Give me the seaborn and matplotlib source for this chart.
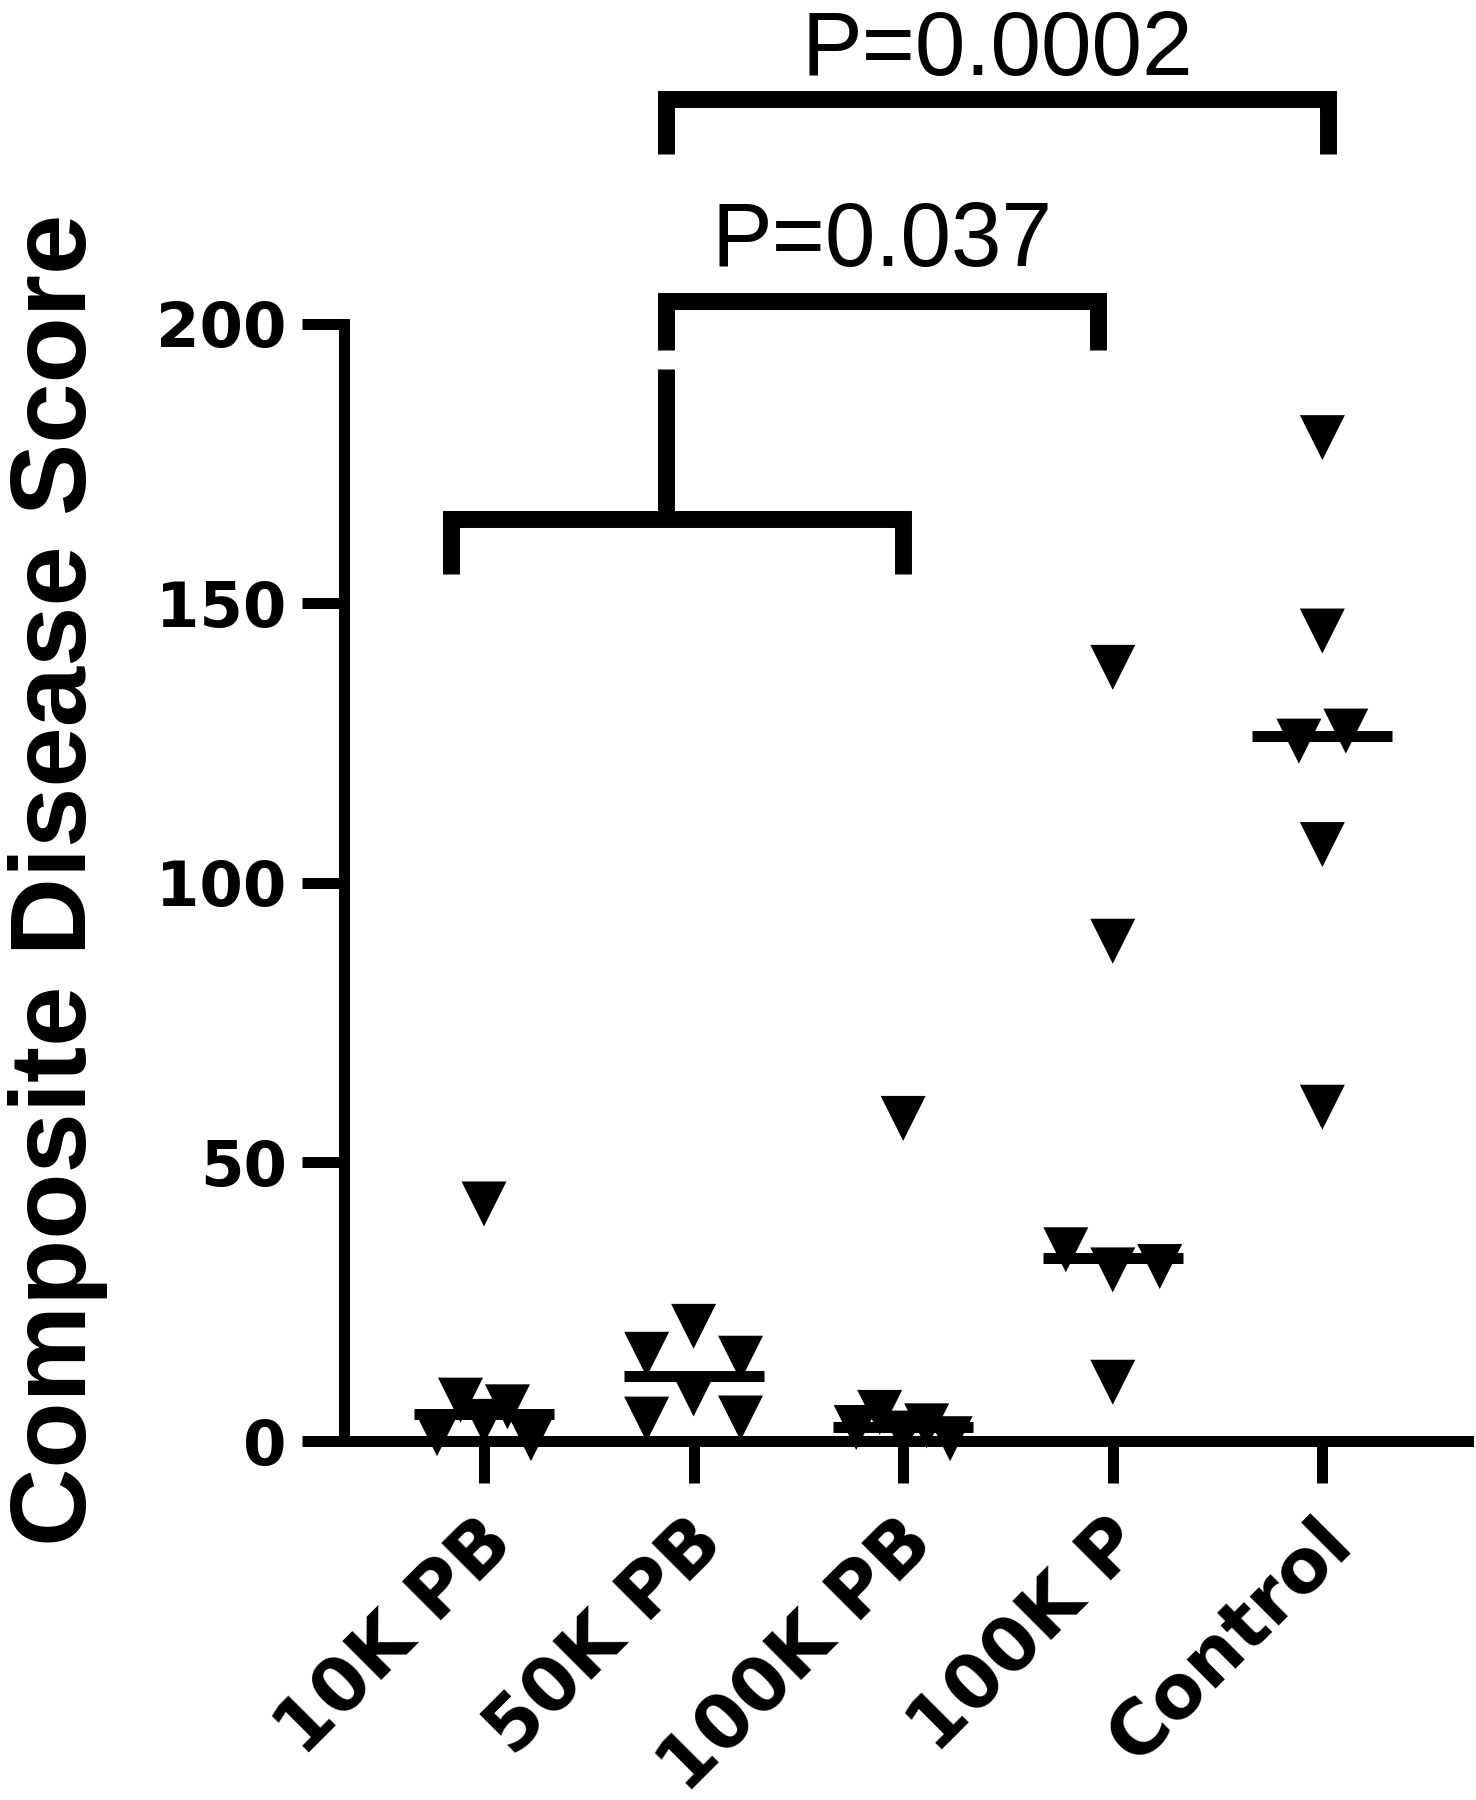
import numpy as np
import pandas as pd
import matplotlib
matplotlib.use("Agg")
import matplotlib.pyplot as plt
import matplotlib.transforms as mtransforms
import seaborn as sns

# values (one array per group, replicate order)
groups = ["10K PB", "50K PB", "100K PB", "100K P", "Control"]
score_10k_pb = [1.4, 3.6, 0.5, 7.4, 6.2, 42.5]
score_50k_pb = [4.0, 8.5, 4.2, 15.6, 20.6, 14.9]
score_100k_pb = [2.5, 1.5, 0.5, 5.2, 2.8, 57.8]
score_100k_p = [34.3, 30.7, 31.3, 10.6, 89.5, 138.5]
score_control = [125.3, 127.1, 179.6, 145.0, 106.8, 59.8]
y_ticks = [0, 50, 100, 150, 200]
p_labels = ["P=0.037", "P=0.0002"]

scores = [score_10k_pb, score_50k_pb, score_100k_pb, score_100k_p, score_control]

# GraphPad-like column scatter: points whose values are close share a row
# and are spread sideways (at most 3 per row)
ROW_REACH = 8.0   # score units covered by one marker
STEP = 0.224      # sideways spacing, category units

def row_offsets(values, max_per_row=3):
    values = np.asarray(values)
    rows = []
    for idx in np.argsort(values, kind="stable"):
        if rows and len(rows[-1]) < max_per_row and values[idx] - values[rows[-1][0]] < ROW_REACH:
            rows[-1].append(idx)
        else:
            rows.append([idx])
    off = np.zeros(len(values))
    for row in rows:
        row = sorted(row)
        for k, idx in enumerate(row):
            off[idx] = (k - (len(row) - 1) / 2) * STEP
    return off

df = pd.DataFrame({
    "group": np.repeat(groups, [len(s) for s in scores]),
    "score": np.concatenate(scores),
    "xpos": np.concatenate([i + row_offsets(s) for i, s in enumerate(scores)]),
})

sns.set_style("ticks")
plt.rcParams["font.family"] = ["Liberation Sans", "DejaVu Sans"]
plt.rcParams["text.color"] = "black"
plt.rcParams["xtick.color"] = "black"
plt.rcParams["ytick.color"] = "black"

fig = plt.figure(figsize=(14.76, 18), dpi=100)
ax = fig.add_axes([0.2329, 0.19917, 0.7617, 0.80083])

sns.scatterplot(data=df, x="xpos", y="score", marker="v", s=32.4 ** 2, color="black",
                linewidth=0, edgecolor="none", legend=False, ax=ax, clip_on=False, zorder=2)

# median lines
lw = 7.9
for i, g in enumerate(groups):
    med = df.loc[df["group"] == g, "score"].median()
    ax.hlines(med, i - 0.334, i + 0.334, color="black", lw=lw, clip_on=False, zorder=3)

ax.set_xlim(-0.669, 4.695)
ax.set_ylim(0, 257.9)
ax.spines[["top", "right"]].set_visible(False)
ax.spines["left"].set_bounds(0, 200)
for s in ["left", "bottom"]:
    ax.spines[s].set_linewidth(lw)
    ax.spines[s].set_color("black")
    ax.spines[s].set_capstyle("projecting")
ax.set_yticks(y_ticks)
ax.tick_params(axis="both", width=lw, length=30, direction="out", color="black", labelcolor="black")
ax.tick_params(axis="y", pad=11)
ax.tick_params(axis="x", pad=16)
ax.set_yticklabels([str(t) for t in y_ticks], fontsize=45, fontweight="bold", family="DejaVu Sans")
ax.set_xticks(range(len(groups)))
ax.set_xticklabels(groups, rotation=45, ha="right", va="top", rotation_mode="anchor",
                   fontsize=54, fontweight="bold", family="DejaVu Sans")
shift = mtransforms.ScaledTranslation(-8 / 100, 0, fig.dpi_scale_trans)
for lbl in ax.get_xticklabels():
    lbl.set_transform(lbl.get_transform() + shift)
ax.set_xlabel("")
ax.set_ylabel("")

# brackets
blw = 12.2
stem_x = 0.868

def bracket(x1, x2, y_top, y_bottom):
    ax.plot([x1, x1, x2, x2], [y_bottom, y_top, y_top, y_bottom], color="black", lw=blw,
            solid_joinstyle="miter", solid_capstyle="butt", clip_on=False)

bracket(-0.157, 2.0, 165.1, 155.2)
ax.plot([stem_x, stem_x], [165.1, 191.8], color="black", lw=blw, solid_capstyle="butt", clip_on=False)
bracket(stem_x, 2.93, 204.1, 195.3)
ax.text((stem_x + 2.93) / 2, 210.3, p_labels[0], ha="center", va="baseline", fontsize=65.5)
bracket(stem_x, 4.027, 240.1, 230.4)
ax.text((stem_x + 4.027) / 2, 244.5, p_labels[1], ha="center", va="baseline", fontsize=65.5)

fig.text(0.0392, 0.5111, "Composite Disease Score", rotation=90, ha="center", va="center",
         fontsize=78, fontweight="bold")

fig.savefig("out.png", dpi=100)
